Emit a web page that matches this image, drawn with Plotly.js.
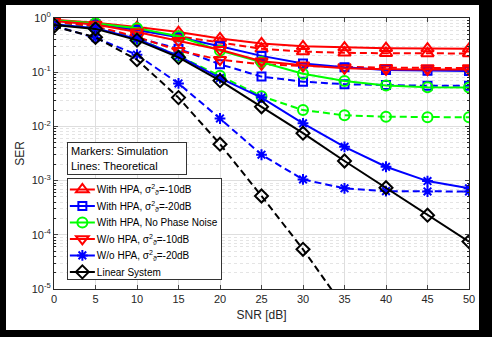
<!DOCTYPE html>
<html>
<head>
<meta charset="utf-8">
<script src="https://cdn.plot.ly/plotly-3.0.1.min.js"></script>
<style>
html,body{margin:0;padding:0;background:#000;width:492px;height:337px;overflow:hidden;}
#chart{position:absolute;left:6px;top:5px;width:473px;height:325px;}
</style>
</head>
<body>
<div id="chart"></div>
<script>
const snr = [0, 5, 10, 15, 20, 25, 30, 35, 40, 45, 50];

// With HPA, sigma^2 = -10 dB (red, triangle up)
const hpa10Solid  = [0.93, 0.82, 0.68, 0.55, 0.42, 0.34, 0.30, 0.285, 0.278, 0.273, 0.27];
const hpa10Dash   = [0.90, 0.78, 0.60, 0.46, 0.35, 0.27, 0.24, 0.228, 0.224, 0.222, 0.222];
// With HPA, sigma^2 = -20 dB (blue, square)
const hpa20Solid  = [0.90, 0.77, 0.60, 0.44, 0.30, 0.20, 0.145, 0.123, 0.110, 0.106, 0.105];
const hpa20Dash   = [0.87, 0.68, 0.43, 0.27, 0.14, 0.083, 0.067, 0.060, 0.058, 0.056, 0.056];
// With HPA, no phase noise (green, circle)
const hpaNoPNSolid = [0.91, 0.80, 0.65, 0.46, 0.25, 0.155, 0.094, 0.069, 0.057, 0.053, 0.052];
const hpaNoPNDash  = [0.85, 0.68, 0.42, 0.20, 0.086, 0.036, 0.020, 0.016, 0.0151, 0.0147, 0.0147];
// W/o HPA, sigma^2 = -10 dB (red, triangle down)
const woHpa10Solid = [0.88, 0.76, 0.55, 0.38, 0.26, 0.16, 0.135, 0.118, 0.113, 0.112, 0.112];
const woHpa10Dash  = [0.86, 0.70, 0.45, 0.25, 0.17, 0.14, 0.13, 0.125, 0.121, 0.12, 0.12];
// W/o HPA, sigma^2 = -20 dB (blue, asterisk)
const woHpa20Solid = [0.77, 0.65, 0.41, 0.20, 0.078, 0.034, 0.0114, 0.0042, 0.0018, 0.00098, 0.00072];
const woHpa20Dash  = [0.72, 0.43, 0.21, 0.062, 0.014, 0.003, 0.00105, 0.00072, 0.00064, 0.00063, 0.00063];
// Linear system (black, diamond)
const linSolid = [0.74, 0.63, 0.39, 0.188, 0.070, 0.023, 0.0075, 0.0023, 0.00074, 0.00023, 0.000075];
const linDash  = [0.70, 0.44, 0.17, 0.034, 0.0047, 0.00052, 0.000054, 0.0000045, null, null, null];

const legendNames = [
  'With HPA, σ<sup>2</sup><sub>ϑ</sub>=-10dB',
  'With HPA, σ<sup>2</sup><sub>ϑ</sub>=-20dB',
  'With HPA, No Phase Noise',
  'W/o HPA, σ<sup>2</sup><sub>ϑ</sub>=-10dB',
  'W/o HPA, σ<sup>2</sup><sub>ϑ</sub>=-20dB',
  'Linear System'
];

const yTickVals = [1e-5, 1e-4, 1e-3, 1e-2, 1e-1, 1];
const yTickText = ['10<sup>-5</sup>', '10<sup>-4</sup>', '10<sup>-3</sup>', '10<sup>-2</sup>', '10<sup>-1</sup>', '10<sup>0</sup>'];
const xTickVals = [0, 5, 10, 15, 20, 25, 30, 35, 40, 45, 50];

const RED = 'rgb(255,0,0)', BLUE = 'rgb(0,0,255)', GREEN = 'rgb(0,255,0)', BLACK = 'rgb(0,0,0)';

const specs = [
  {s: hpa10Solid, d: hpa10Dash, c: RED, sym: 'triangle-up-open', size: 11},
  {s: hpa20Solid, d: hpa20Dash, c: BLUE, sym: 'square-open', size: 8},
  {s: hpaNoPNSolid, d: hpaNoPNDash, c: GREEN, sym: 'circle-open', size: 10},
  {s: woHpa10Solid, d: woHpa10Dash, c: RED, sym: 'triangle-down-open', size: 11},
  {s: woHpa20Solid, d: woHpa20Dash, c: BLUE, sym: 'asterisk-open', size: 9},
  {s: linSolid, d: linDash, c: BLACK, sym: 'diamond-open', size: 10}
];

const traces = [];
specs.forEach((sp) => {
  traces.push({
    x: snr, y: sp.d, type: 'scatter', mode: 'lines+markers', showlegend: false,
    line: {color: sp.c, width: 2, dash: '7px,4px'},
    marker: {symbol: sp.sym, size: sp.size, color: sp.c, line: {color: sp.c, width: 2}},
    connectgaps: false, hoverinfo: 'skip'
  });
});
specs.forEach((sp, i) => {
  traces.push({
    x: snr, y: sp.s, type: 'scatter', mode: 'lines+markers', name: legendNames[i],
    line: {color: sp.c, width: 2},
    marker: {symbol: sp.sym, size: sp.size, color: sp.c, line: {color: sp.c, width: 2}},
    hoverinfo: 'skip'
  });
});

const layout = {
  width: 473, height: 325,
  margin: {l: 48, r: 10, t: 13, b: 41},
  paper_bgcolor: '#ffffff', plot_bgcolor: '#ffffff',
  font: {family: '"Liberation Sans", Arial, sans-serif', color: '#262626', size: 11},
  showlegend: true,
  legend: {
    x: 0.031, y: 0.41, xanchor: 'left', yanchor: 'top',
    bgcolor: '#ffffff', bordercolor: '#333333', borderwidth: 1,
    font: {size: 10, color: '#000'}, traceorder: 'normal', itemwidth: 30,
    tracegroupgap: 0
  },
  xaxis: {
    range: [0, 50], tickvals: xTickVals, ticks: 'inside', ticklen: 4,
    showline: true, linecolor: '#262626', linewidth: 1, mirror: 'ticks',
    showgrid: true, gridcolor: '#dedede', gridwidth: 1, zeroline: false,
    tickfont: {size: 11, color: '#262626'},
    title: {text: 'SNR [dB]', font: {size: 12, color: '#262626'}, standoff: 6}
  },
  yaxis: {
    type: 'log', range: [-5, 0], tickvals: yTickVals, ticktext: yTickText,
    ticks: 'inside', ticklen: 4,
    showline: true, linecolor: '#262626', linewidth: 1, mirror: 'allticks',
    showgrid: true, gridcolor: '#dedede', gridwidth: 1, zeroline: false,
    tickfont: {size: 11, color: '#262626'},
    minor: {dtick: 'D1', ticks: 'inside', ticklen: 2, tickcolor: '#262626',
            showgrid: true, gridcolor: '#e4e4e4', griddash: 'dot', gridwidth: 1},
    title: {text: 'SER', font: {size: 12, color: '#262626'}, standoff: 4}
  },
  annotations: [{
    xref: 'paper', yref: 'paper', x: 0.031, y: 0.542, xanchor: 'left', yanchor: 'top',
    text: 'Markers: Simulation<br>Lines: Theoretical', showarrow: false, align: 'left',
    font: {size: 11, color: '#000'}, bgcolor: '#ffffff', bordercolor: '#333333',
    borderwidth: 1, borderpad: 3, width: 112, height: 25
  }]
};

Plotly.newPlot('chart', traces, layout, {staticPlot: true, displayModeBar: false}).then(function (gd) {
  // compact the legend rows to match the reference's tighter spacing
  const leg = gd.querySelector('.legend');
  if (!leg) return;
  const items = leg.querySelectorAll('.traces');
  items.forEach(function (it, i) {
    const tr = it.getAttribute('transform') || '';
    const m = tr.match(/translate\(\s*([-\d.]+)[ ,]+([-\d.]+)\s*\)/);
    const x = m ? parseFloat(m[1]) : 1;
    it.setAttribute('transform', 'translate(' + x + ',' + (11.5 + i * 16.5) + ')');
    const t = it.querySelector('.legendtext');
    if (t) t.setAttribute('x', 29);
    it.querySelectorAll('.legendlines path').forEach(function (p) { p.setAttribute('d', 'M2,0h25'); });
    it.querySelectorAll('.legendpoints path').forEach(function (p) { p.setAttribute('transform', 'translate(14.5,0)'); });
  });
  const bg = leg.querySelector('.bg');
  if (bg) { bg.setAttribute('height', 101); bg.setAttribute('width', 154); }
});
</script>
</body>
</html>
